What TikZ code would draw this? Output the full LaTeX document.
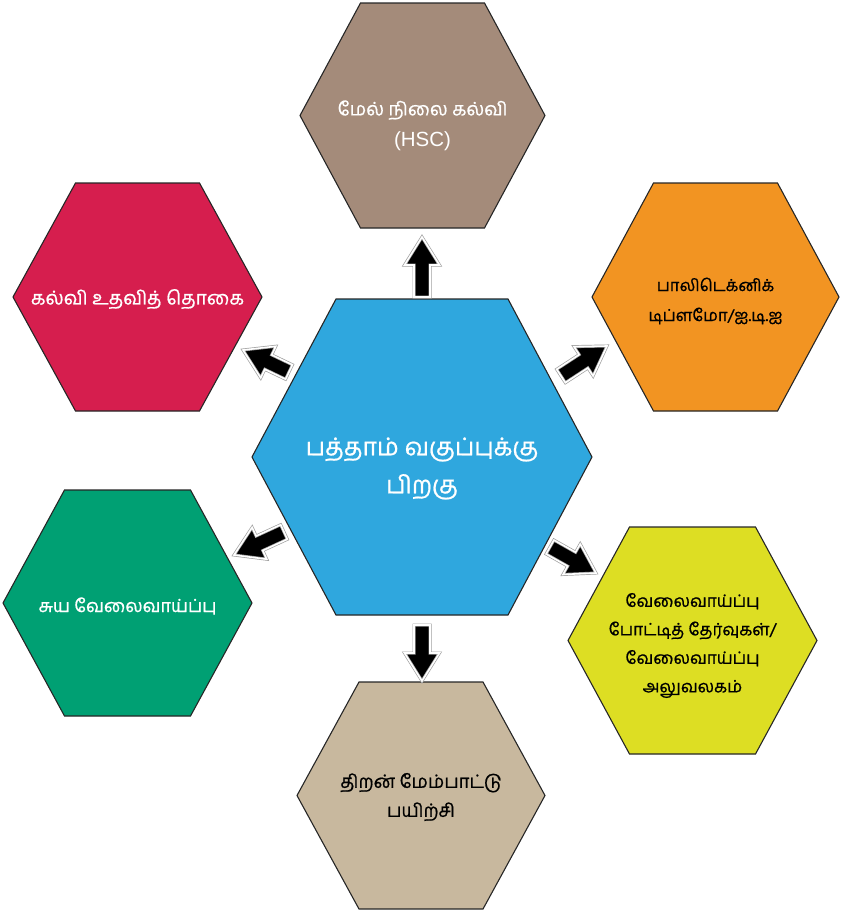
\documentclass[tikz,border=0pt]{standalone}
\usepackage{fontspec}
\newfontfamily\tamil[Script=Tamil, FakeBold=0.8]{Hind Madurai}
\newfontfamily\latinsans{Liberation Sans}
\usetikzlibrary{calc}
\definecolor{hscbrown}{RGB}{164,139,122}
\definecolor{hexred}{RGB}{214,30,78}
\definecolor{hexorange}{RGB}{242,148,34}
\definecolor{hexblue}{RGB}{47,167,222}
\definecolor{hexgreen}{RGB}{0,160,115}
\definecolor{hexyellow}{RGB}{221,222,35}
\definecolor{hextan}{RGB}{200,184,158}
\tikzset{
  hexline/.style={draw=black!85, line width=1.1pt, line join=miter},
  hexlabel/.style={align=center, inner sep=0pt},
  blockarr/.style={fill=black, draw=gray!75, double=white, double distance=1.6pt, line width=0.7pt, line join=miter}
}
\newcommand\hexagon[9]{%
  \draw[hexline, fill=#7] (#2-#4,#3) -- (#2-#6,#3-#5) -- (#2+#6,#3-#5) -- (#2+#4,#3) -- (#2+#6,#3+#5) -- (#2-#6,#3+#5) -- cycle;
  \node[hexlabel, #8] (#1) at (#2,#3) {#9};
}
\newcommand\blockarrow[2]{%
  \coordinate (hb) at ($(#2)!28pt!(#1)$);
  \draw[blockarr] ($(#1)!8pt!90:(#2)$) -- ($(hb)!8pt!90:(#2)$) -- ($(hb)!17.5pt!90:(#2)$) -- (#2)
    -- ($(hb)!17.5pt!-90:(#2)$) -- ($(hb)!8pt!-90:(#2)$) -- ($(#1)!8pt!-90:(#2)$) -- cycle;
}
\begin{document}
\begin{tikzpicture}[x=1pt, y=-1pt]
\useasboundingbox (0,0) rectangle (842,911);
% hexagons
\hexagon{hsc}{422.5}{115.5}{122.5}{112.5}{62}{hscbrown}{text=white, font=\tamil\fontsize{18.5}{31}\selectfont, yshift=-10pt}{மேல் நிலை கல்வி\\{\latinsans\fontsize{20.5}{26}\selectfont (HSC)}}
\hexagon{schol}{137.5}{297}{124.5}{114}{62}{hexred}{text=white, font=\tamil\fontsize{19}{30}\selectfont, yshift=-2pt}{கல்வி உதவித் தொகை}
\hexagon{poly}{715.5}{297}{123.5}{114}{62}{hexorange}{text=black, font=\tamil\fontsize{16.5}{30}\selectfont, yshift=-4pt}{பாலிடெக்னிக்\\டிப்ளமோ/ஐ.டி.ஐ}
\hexagon{centre}{422}{457}{170}{158}{86}{hexblue}{text=white, font=\tamil\fontsize{24.5}{38}\selectfont, yshift=-11.5pt}{பத்தாம் வகுப்புக்கு\\பிறகு}
\hexagon{self}{127.5}{603}{124.5}{113}{63}{hexgreen}{text=white, font=\tamil\fontsize{18}{30}\selectfont, yshift=-3pt}{சுய வேலைவாய்ப்பு}
\hexagon{job}{692.5}{640.5}{124.5}{113.5}{63}{hexyellow}{text=black, font=\tamil\fontsize{17}{28.5}\selectfont, yshift=-5pt}{வேலைவாய்ப்பு\\போட்டித் தேர்வுகள்/\\வேலைவாய்ப்பு\\அலுவலகம்}
\hexagon{skill}{421}{795.5}{124}{113.5}{62}{hextan}{text=black, font=\tamil\fontsize{18.3}{29}\selectfont, yshift=-1.5pt}{திறன் மேம்பாட்டு\\பயிற்சி}
% arrow end points
\coordinate (uS) at (422,297);  \coordinate (uE) at (422,237);
\coordinate (ulS) at (289,372); \coordinate (ulE) at (243,350);
\coordinate (urS) at (561,376); \coordinate (urE) at (607,346);
\coordinate (dlS) at (284,532); \coordinate (dlE) at (234,555);
\coordinate (drS) at (550,547); \coordinate (drE) at (596,573);
\coordinate (dS) at (422,625);  \coordinate (dE) at (422,681);
\blockarrow{uS}{uE}
\blockarrow{ulS}{ulE}
\blockarrow{urS}{urE}
\blockarrow{dlS}{dlE}
\blockarrow{drS}{drE}
\blockarrow{dS}{dE}
\end{tikzpicture}
\end{document}
